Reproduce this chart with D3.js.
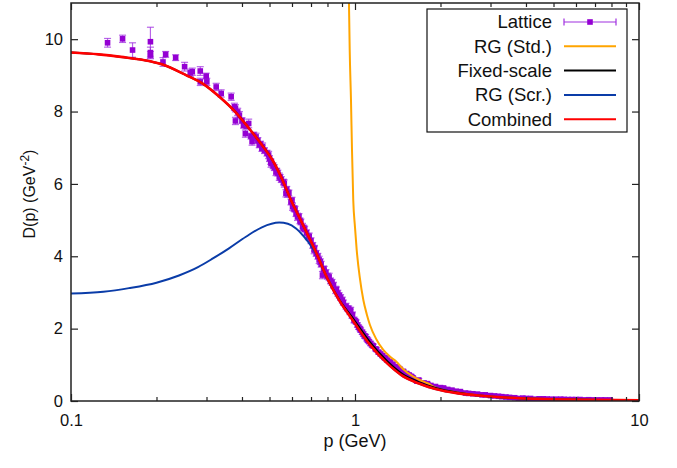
<!DOCTYPE html>
<html>
<head>
<meta charset="utf-8">
<script src="https://cdn.jsdelivr.net/npm/d3@7"></script>
<style>
  body { margin: 0; background: #fff; }
  text { font-family: "Liberation Sans", Arial, Helvetica, sans-serif; }
</style>
</head>
<body>
<svg id="chart" width="677" height="468"></svg>
<script>
// lattice data: momentum (GeV), propagator, error
const latticeP = [0.1345, 0.1519, 0.1647, 0.1904, 0.1904, 0.1904, 0.2108, 0.2154, 0.2336, 0.2512,
  0.263, 0.2673, 0.2852, 0.2852, 0.2993, 0.3008, 0.3245, 0.338, 0.3664, 0.3762,
  0.3793, 0.3793, 0.3864, 0.3917, 0.40, 0.4111, 0.415, 0.4223, 0.4341, 0.44,
  0.4484, 0.455, 0.465, 0.4729, 0.48, 0.49, 0.4965, 0.50, 0.5061, 0.515,
  0.52, 0.527, 0.535, 0.5412, 0.55, 0.56, 0.5636, 0.5713, 0.5788, 0.585,
  0.595, 0.6026, 0.61, 0.62, 0.6274, 0.64, 0.6534, 0.66, 0.675, 0.6899,
  0.70, 0.71, 0.7181, 0.73, 0.7478, 0.76, 0.768, 0.7786, 0.79, 0.8108,
  0.83, 0.84, 0.8555, 0.87, 0.89, 0.9024, 0.93, 0.95, 0.9658, 0.98,
  0.992, 1.01, 1.03, 1.047, 1.07, 1.09, 1.11, 1.135, 1.16, 1.182,
  1.21, 1.25, 1.282, 1.33, 1.39, 1.44, 1.506, 1.55, 1.6, 1.677,
  1.8, 1.92, 2.05, 2.195, 2.35, 2.512, 2.7, 2.875, 3.1, 3.287,
  3.5, 3.762, 4.0, 4.305, 4.6, 4.923, 5.3, 5.636, 6.0, 6.449,
  6.9, 7.375, 7.91,
  0.405, 0.43, 0.46, 0.47, 0.505, 0.53, 0.545, 0.575, 0.60, 0.615,
  0.635, 0.645, 0.665, 0.685, 0.72, 0.74, 0.755, 0.775, 0.80, 0.82,
  0.86, 0.88, 0.91, 0.94, 0.96, 0.975, 1.0, 1.02, 1.04, 1.06,
  1.08, 1.10, 1.12, 1.15, 1.19, 1.23, 1.27, 1.30, 1.36, 1.42,
  1.48, 1.52, 1.58, 1.65, 1.75, 1.85, 2.0, 2.12, 2.27, 2.45,
  2.6, 2.8, 3.0, 3.2, 3.4, 3.65, 3.9, 4.15, 4.45, 4.75,
  5.1, 5.45, 5.8, 6.2, 6.65, 7.1, 7.6];
const latticeD = [9.90, 10.01, 9.70, 9.93, 9.63, 9.56, 9.37, 9.58, 9.49, 9.24,
  9.07, 9.10, 9.12, 8.82, 8.98, 8.82, 8.68, 8.50, 8.41, 8.13,
  8.09, 7.74, 7.99, 7.90, 7.75, 7.39, 7.60, 7.67, 7.17, 7.35,
  7.30, 7.20, 7.10, 7.03, 6.92, 6.85, 6.80, 6.70, 6.56, 6.50,
  6.45, 6.33, 6.30, 6.20, 6.12, 6.05, 6.01, 5.74, 5.73, 5.75,
  5.50, 5.37, 5.32, 5.18, 5.09, 4.98, 4.81, 4.78, 4.65, 4.54,
  4.43, 4.30, 4.17, 4.08, 3.90, 3.78, 3.48, 3.62, 3.55, 3.43,
  3.28, 3.20, 3.07, 2.98, 2.86, 2.79, 2.62, 2.55, 2.51, 2.38,
  2.24, 2.18, 2.04, 1.96, 1.85, 1.78, 1.68, 1.59, 1.52, 1.44,
  1.35, 1.25, 1.18, 1.08, 0.95, 0.88, 0.72, 0.72, 0.64, 0.58,
  0.48, 0.40, 0.36, 0.30, 0.26, 0.21, 0.19, 0.17, 0.14, 0.12,
  0.10, 0.07, 0.07, 0.05, 0.06, 0.05, 0.05, 0.04, 0.04, 0.03,
  0.03, 0.03, 0.03,
  7.62, 7.32, 7.08, 6.98, 6.62, 6.35, 6.18, 5.85, 5.55, 5.30,
  5.10, 4.95, 4.75, 4.55, 4.22, 4.00, 3.85, 3.65, 3.45, 3.32,
  3.08, 2.92, 2.72, 2.56, 2.46, 2.36, 2.22, 2.10, 2.00, 1.90,
  1.80, 1.72, 1.64, 1.54, 1.42, 1.30, 1.20, 1.13, 1.02, 0.92,
  0.82, 0.76, 0.68, 0.55, 0.50, 0.43, 0.37, 0.32, 0.27, 0.22,
  0.20, 0.17, 0.15, 0.13, 0.11, 0.09, 0.08, 0.07, 0.06, 0.055,
  0.05, 0.045, 0.04, 0.04, 0.035, 0.03, 0.03];
const latticeErr = [0.12, 0.10, 0.20, 0.40, 0.15, 0.10, 0.12, 0.08, 0.08, 0.12,
  0.10, 0.10, 0.12, 0.10, 0.08, 0.10, 0.10, 0.10, 0.10, 0.10,
  0.10, 0.10, 0.10, 0.10, 0.08, 0.10, 0.08, 0.12, 0.10, 0.08,
  0.10, 0.08, 0.08, 0.10, 0.08, 0.08, 0.10, 0.08, 0.10, 0.08,
  0.08, 0.10, 0.08, 0.10, 0.08, 0.08, 0.10, 0.10, 0.10, 0.08,
  0.08, 0.10, 0.08, 0.08, 0.10, 0.08, 0.10, 0.08, 0.08, 0.10,
  0.08, 0.08, 0.10, 0.08, 0.10, 0.08, 0.10, 0.10, 0.08, 0.10,
  0.08, 0.08, 0.10, 0.08, 0.08, 0.08, 0.08, 0.08, 0.08, 0.08,
  0.08, 0.06, 0.06, 0.06, 0.06, 0.06, 0.06, 0.06, 0.05, 0.05,
  0.05, 0.05, 0.05, 0.05, 0.04, 0.04, 0.04, 0.04, 0.04, 0.04,
  0.03, 0.03, 0.03, 0.03, 0.03, 0.02, 0.02, 0.02, 0.02, 0.02,
  0.02, 0.02, 0.02, 0.02, 0.02, 0.02, 0.02, 0.02, 0.02, 0.02,
  0.02, 0.02, 0.02,
  0.08, 0.08, 0.08, 0.08, 0.08, 0.08, 0.08, 0.08, 0.08, 0.08,
  0.08, 0.08, 0.08, 0.08, 0.08, 0.08, 0.08, 0.08, 0.08, 0.08,
  0.07, 0.07, 0.07, 0.07, 0.07, 0.07, 0.06, 0.06, 0.06, 0.06,
  0.06, 0.06, 0.05, 0.05, 0.05, 0.05, 0.05, 0.05, 0.04, 0.04,
  0.04, 0.04, 0.04, 0.03, 0.03, 0.03, 0.03, 0.03, 0.02, 0.02,
  0.02, 0.02, 0.02, 0.02, 0.02, 0.02, 0.02, 0.02, 0.02, 0.02,
  0.02, 0.02, 0.02, 0.02, 0.02, 0.02, 0.02];

// RG (Std.)
const stdP = [0.946, 0.952, 0.958, 0.968, 0.976, 0.986, 1.0, 1.014, 1.04, 1.07, 1.1, 1.129, 1.19,
  1.258, 1.33, 1.402, 1.47, 1.60, 1.69, 1.8, 1.92, 2.31, 2.86, 3.5, 5, 7, 10];
const stdD = [12.5, 11.08, 9.7, 8.31, 6.93, 5.55, 4.8, 4.17, 3.4, 2.79, 2.4, 2.1, 1.7,
  1.41, 1.22, 1.08, 0.9, 0.68, 0.58, 0.49, 0.37, 0.23, 0.14, 0.09, 0.05, 0.03, 0.02];

// Fixed-scale
const fixP = [0.1, 0.125, 0.15, 0.19, 0.21, 0.255, 0.29, 0.333, 0.38, 0.424, 0.473, 0.512, 0.556, 0.59,
  0.652, 0.728, 0.80, 0.88, 0.98, 1.13, 1.29, 1.46, 1.67, 1.92, 2.31, 2.86, 3.5, 5, 7, 10];
const fixD = [9.63, 9.58, 9.51, 9.39, 9.3, 9.0, 8.78, 8.41, 7.98, 7.53, 7.05, 6.66, 6.1, 5.62,
  4.91, 4.12, 3.38, 2.8, 2.3, 1.62, 1.12, 0.76, 0.53, 0.36, 0.23, 0.14, 0.09, 0.05, 0.03, 0.02];

// RG (Scr.)
const scrP = [0.1, 0.13, 0.16, 0.2, 0.24, 0.28, 0.316, 0.36, 0.413, 0.47, 0.541, 0.58, 0.62, 0.66,
  0.707, 0.75, 0.80, 0.88, 0.98, 1.13, 1.29, 1.46, 1.67, 1.92, 2.31, 2.86, 3.5, 5, 7, 10];
const scrD = [2.97, 3.02, 3.12, 3.27, 3.47, 3.7, 3.94, 4.22, 4.54, 4.8, 4.93, 4.9, 4.77, 4.55,
  4.24, 3.9, 3.38, 2.78, 2.24, 1.55, 1.06, 0.71, 0.49, 0.33, 0.21, 0.14, 0.09, 0.05, 0.03, 0.02];

// Combined
const combP = [0.1, 0.125, 0.15, 0.19, 0.21, 0.255, 0.29, 0.333, 0.38, 0.424, 0.473, 0.512, 0.556, 0.59,
  0.652, 0.728, 0.80, 0.88, 0.98, 1.13, 1.29, 1.46, 1.67, 1.92, 2.31, 2.86, 3.5, 5, 7, 10];
const combD = [9.63, 9.58, 9.51, 9.39, 9.3, 9.0, 8.78, 8.41, 7.98, 7.53, 7.05, 6.66, 6.1, 5.62,
  4.91, 4.12, 3.38, 2.78, 2.24, 1.55, 1.06, 0.71, 0.49, 0.33, 0.21, 0.14, 0.09, 0.05, 0.03, 0.02];

const xMajor = [0.1, 1, 10];
const xMinor = [0.2, 0.3, 0.4, 0.5, 0.6, 0.7, 0.8, 0.9, 2, 3, 4, 5, 6, 7, 8, 9];
const yTicks = [0, 2, 4, 6, 8, 10];

const legendNames = ["Lattice", "RG (Std.)", "Fixed-scale", "RG (Scr.)", "Combined"];
const legendColors = ["#9400d3", "#ffa500", "#000000", "#0a3ca8", "#ff0000"];

const svg = d3.select("#chart");
const plotL = 71, plotR = 639, plotT = 3, plotB = 401;

const x = d3.scaleLog().domain([0.1, 10]).range([plotL, plotR]);
const y = d3.scaleLinear().domain([0, 11]).range([plotB, plotT]);

svg.append("defs").append("clipPath").attr("id", "plotclip")
  .append("rect").attr("x", plotL).attr("y", plotT)
  .attr("width", plotR - plotL).attr("height", plotB - plotT);

// lattice points with error bars
const lat = latticeP.map((p, i) => ({p: p, d: latticeD[i], e: latticeErr[i]}));
const pts = svg.append("g").attr("clip-path", "url(#plotclip)");
const bars = pts.append("g").attr("stroke", "#a030e0").attr("stroke-width", 1.2).attr("stroke-opacity", 0.75);
bars.selectAll("line.err").data(lat).join("line").attr("class", "err")
  .attr("x1", d => x(d.p)).attr("x2", d => x(d.p))
  .attr("y1", d => y(d.d - d.e)).attr("y2", d => y(d.d + d.e));
bars.selectAll("line.capt").data(lat).join("line").attr("class", "capt")
  .attr("x1", d => x(d.p) - 3.5).attr("x2", d => x(d.p) + 3.5)
  .attr("y1", d => y(d.d + d.e)).attr("y2", d => y(d.d + d.e));
bars.selectAll("line.capb").data(lat).join("line").attr("class", "capb")
  .attr("x1", d => x(d.p) - 3.5).attr("x2", d => x(d.p) + 3.5)
  .attr("y1", d => y(d.d - d.e)).attr("y2", d => y(d.d - d.e));
pts.selectAll("rect.pt").data(lat).join("rect").attr("class", "pt")
  .attr("x", d => x(d.p) - 2.8).attr("y", d => y(d.d) - 2.8)
  .attr("width", 5.6).attr("height", 5.6).attr("fill", "#9400d3");

// curves
const line = d3.line().x(d => x(d[0])).y(d => y(d[1])).curve(d3.curveMonotoneX);
const curves = [
  {p: stdP, d: stdD, c: legendColors[1], w: 2},
  {p: fixP, d: fixD, c: legendColors[2], w: 2},
  {p: scrP, d: scrD, c: legendColors[3], w: 2},
  {p: combP, d: combD, c: legendColors[4], w: 2.6}
];
const cg = svg.append("g").attr("clip-path", "url(#plotclip)");
curves.forEach(s => {
  cg.append("path").datum(s.p.map((p, i) => [p, s.d[i]]))
    .attr("fill", "none").attr("stroke", s.c).attr("stroke-width", s.w)
    .attr("d", line);
});

// axes
const axisCol = "#222";
function styleAxis(g) {
  g.select(".domain").remove();
  g.selectAll(".tick line").attr("stroke", axisCol).attr("stroke-width", 1.2);
  g.selectAll(".tick text").attr("fill", "#111").style("font-size", "16.5px");
}
svg.append("g").attr("transform", `translate(0,${plotB})`)
  .call(d3.axisBottom(x).tickValues(xMajor).tickSize(-7).tickPadding(13).tickFormat(d => String(d)))
  .call(styleAxis);
svg.append("g").attr("transform", `translate(0,${plotB})`)
  .call(d3.axisBottom(x).tickValues(xMinor).tickSize(-4).tickFormat(""))
  .call(styleAxis);
svg.append("g").attr("transform", `translate(0,${plotT})`)
  .call(d3.axisTop(x).tickValues(xMajor).tickSize(-7).tickFormat(""))
  .call(styleAxis);
svg.append("g").attr("transform", `translate(0,${plotT})`)
  .call(d3.axisTop(x).tickValues(xMinor).tickSize(-4).tickFormat(""))
  .call(styleAxis);
svg.append("g").attr("transform", `translate(${plotL},0)`)
  .call(d3.axisLeft(y).tickValues(yTicks).tickSize(-7).tickPadding(8))
  .call(styleAxis);
svg.append("g").attr("transform", `translate(${plotR},0)`)
  .call(d3.axisRight(y).tickValues(yTicks).tickSize(-7).tickFormat(""))
  .call(styleAxis);

svg.append("rect").attr("x", plotL).attr("y", plotT)
  .attr("width", plotR - plotL).attr("height", plotB - plotT)
  .attr("fill", "none").attr("stroke", axisCol).attr("stroke-width", 1.5);

// axis titles
svg.append("text").attr("x", (plotL + plotR) / 2).attr("y", 447)
  .attr("text-anchor", "middle").style("font-size", "18px").attr("fill", "#111")
  .text("p (GeV)");
const yt = svg.append("text").attr("transform", "translate(35,194) rotate(-90)")
  .attr("text-anchor", "middle").style("font-size", "16px").attr("fill", "#111");
yt.append("tspan").text("D(p) (GeV");
yt.append("tspan").attr("dy", -6).style("font-size", "12px").text("-2");
yt.append("tspan").attr("dy", 6).text(")");

// legend
const lg = svg.append("g");
lg.append("rect").attr("x", 427).attr("y", 9).attr("width", 200).attr("height", 123)
  .attr("fill", "#fff").attr("stroke", "#111").attr("stroke-width", 1.2);
legendNames.forEach((name, i) => {
  const ly = 22 + i * 24.3;
  lg.append("text").attr("x", 552).attr("y", ly).attr("dy", "0.35em")
    .attr("text-anchor", "end").style("font-size", "18.5px").attr("fill", "#111").text(name);
  if (i === 0) {
    lg.append("line").attr("x1", 564).attr("x2", 616).attr("y1", ly).attr("y2", ly)
      .attr("stroke", "#a030e0").attr("stroke-width", 1.2);
    [564, 616].forEach(cx => lg.append("line").attr("x1", cx).attr("x2", cx)
      .attr("y1", ly - 3.5).attr("y2", ly + 3.5).attr("stroke", "#a030e0").attr("stroke-width", 1.2));
    lg.append("rect").attr("x", 587.2).attr("y", ly - 2.8).attr("width", 5.6).attr("height", 5.6)
      .attr("fill", legendColors[0]);
  } else {
    lg.append("line").attr("x1", 564).attr("x2", 616).attr("y1", ly).attr("y2", ly)
      .attr("stroke", legendColors[i]).attr("stroke-width", 2);
  }
});
</script>
</body>
</html>
